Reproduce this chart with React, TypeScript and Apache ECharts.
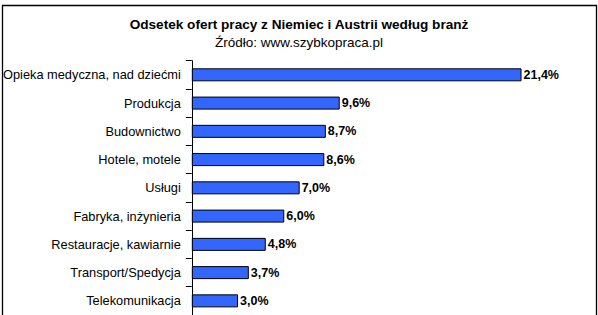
import React, { useEffect, useRef } from "react";
import * as echarts from "echarts";

const titleText = "Odsetek ofert pracy z Niemiec i Austrii według branż";
const subtitleText = "Źródło: www.szybkopraca.pl";
const categories = [
  "Opieka medyczna, nad dziećmi",
  "Produkcja",
  "Budownictwo",
  "Hotele, motele",
  "Usługi",
  "Fabryka, inżynieria",
  "Restauracje, kawiarnie",
  "Transport/Spedycja",
  "Telekomunikacja",
];
const values = [21.4, 9.6, 8.7, 8.6, 7.0, 6.0, 4.8, 3.7, 3.0];

export default function App() {
  const ref = useRef<HTMLDivElement>(null);
  useEffect(() => {
    if (!ref.current) return;
    const chart = echarts.init(ref.current, null, { renderer: "svg" });
    const font = "Arial, 'Liberation Sans', sans-serif";
    chart.setOption({
      animation: false,
      backgroundColor: "#ffffff",
      graphic: [
        {
          type: "rect",
          shape: { x: 2.5, y: 5.5, width: 594, height: 330 },
          style: { fill: "none", stroke: "#000", lineWidth: 1.3 },
          silent: true,
        },
      ],
      title: {
        text: titleText,
        subtext: subtitleText,
        left: "center",
        top: 12,
        itemGap: 4,
        textStyle: { fontFamily: font, fontSize: 13.6, fontWeight: "bold", color: "#000" },
        subtextStyle: { fontFamily: font, fontSize: 13.5, color: "#000" },
      },
      grid: { left: 191, right: 21, top: 60.7, bottom: -12.5, containLabel: false },
      xAxis: {
        type: "value",
        min: 0,
        max: 25,
        show: false,
      },
      yAxis: {
        type: "category",
        data: categories,
        inverse: true,
        axisLine: { show: true, lineStyle: { color: "#000", width: 1 } },
        axisTick: { show: true, length: 6, lineStyle: { color: "#000" } },
        axisLabel: { margin: 11, fontFamily: font, fontSize: 12.8, color: "#000" },
        splitLine: { show: false },
      },
      series: [
        {
          type: "bar",
          data: values,
          barWidth: 13,
          itemStyle: { color: "#3366ff", borderColor: "#000", borderWidth: 1 },
          label: {
            show: true,
            position: "right",
            distance: 2,
            fontFamily: font,
            fontSize: 12.5,
            fontWeight: "bold",
            color: "#000",
            formatter: (p: any) => p.value.toFixed(1).replace(".", ",") + "%",
          },
        },
      ],
    });
    return () => chart.dispose();
  }, []);
  return (
    <div
      ref={ref}
      style={{ position: "fixed", left: 0, top: 0, width: 598, height: 315, overflow: "hidden" }}
    />
  );
}
